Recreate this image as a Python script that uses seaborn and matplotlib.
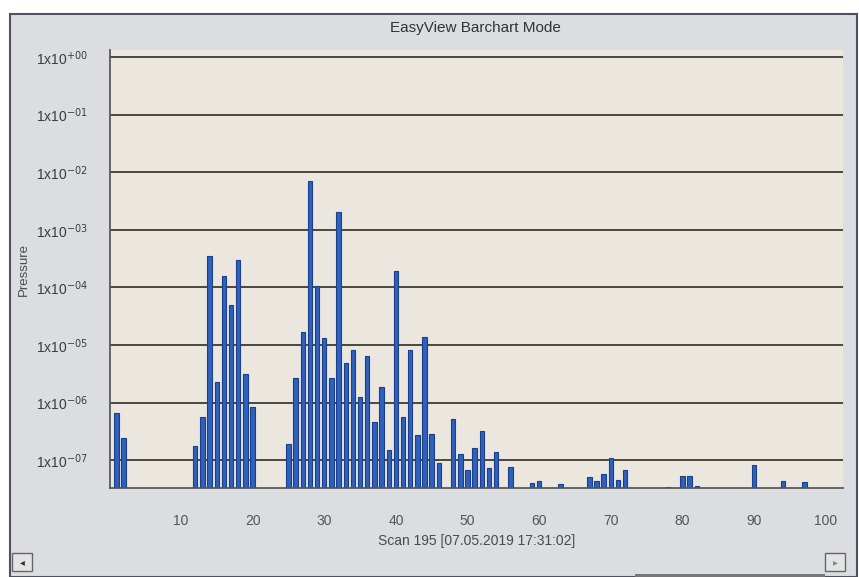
import matplotlib
matplotlib.use("Agg")
import matplotlib.pyplot as plt
import matplotlib.patches as mpatches
import seaborn as sns
import pandas as pd

# --- Dados (massa x pressão) ---
massas = [1, 2, 12, 13, 14, 15, 16, 17, 18, 19, 20,
          25, 26, 27, 28, 29, 30, 31, 32, 33, 34, 35, 36, 37, 38, 39,
          40, 41, 42, 43, 44, 45, 46, 48, 49, 50, 51, 52, 53, 54, 56,
          59, 60, 63, 67, 68, 69, 70, 71, 72, 78, 80, 81, 82, 90, 94, 97]
pressoes = [6.6e-7, 2.4e-7, 1.8e-7, 5.6e-7, 3.5e-4, 2.3e-6, 1.6e-4, 4.9e-5, 3.0e-4, 3.2e-6, 8.3e-7,
            1.9e-7, 2.7e-6, 1.7e-5, 7.0e-3, 1.05e-4, 1.3e-5, 2.7e-6, 2.0e-3, 4.8e-6, 8.1e-6, 1.25e-6, 6.4e-6, 4.6e-7, 1.9e-6, 1.5e-7,
            1.9e-4, 5.6e-7, 8.1e-6, 2.7e-7, 1.4e-5, 2.9e-7, 8.9e-8, 5.1e-7, 1.3e-7, 6.7e-8, 1.6e-7, 3.2e-7, 7.3e-8, 1.4e-7, 7.6e-8,
            4.0e-8, 4.4e-8, 3.8e-8, 5.1e-8, 4.3e-8, 5.7e-8, 1.1e-7, 4.6e-8, 6.7e-8, 3.5e-8, 5.3e-8, 5.3e-8, 3.6e-8, 8.3e-8, 4.4e-8, 4.2e-8]

ticks_x = [10, 20, 30, 40, 50, 60, 70, 80, 90, 100]
ticks_y = [1e0, 1e-1, 1e-2, 1e-3, 1e-4, 1e-5, 1e-6, 1e-7]
rotulos_y = ["1x10$^{+00}$", "1x10$^{-01}$", "1x10$^{-02}$", "1x10$^{-03}$",
             "1x10$^{-04}$", "1x10$^{-05}$", "1x10$^{-06}$", "1x10$^{-07}$"]

df = pd.DataFrame({"massa": massas, "pressao": pressoes})

sns.set_theme(style="white")
plt.rcParams["font.family"] = ["Liberation Sans", "DejaVu Sans"]

W, H = 859, 577
fig = plt.figure(figsize=(W / 100, H / 100), dpi=100)
fig.patch.set_facecolor("white")

# --- Moldura da janela ---
fig.add_artist(mpatches.Rectangle((10 / W, 0), 847 / W, 1 - 14 / H,
                                  transform=fig.transFigure, facecolor="#dcdde0",
                                  edgecolor="#4d5260", linewidth=1.5, zorder=0))

ax = fig.add_axes([110 / W, 1 - 488 / H, 733 / W, 438 / H])
ax.set_facecolor("#ebe7df")

sns.barplot(data=df, x="massa", y="pressao", native_scale=True, width=0.62,
            color="#2f60bd", edgecolor="#1c3f8c", linewidth=0.8,
            saturation=1, ax=ax)

ax.set_yscale("log")
ax.set_ylim(3.3e-8, 1.32)
ax.set_xlim(0.1, 102.4)

ax.set_yticks(ticks_y)
ax.set_yticklabels(rotulos_y)
ax.minorticks_off()
ax.set_xticks(ticks_x)
ax.set_xticklabels([str(t) for t in ticks_x])

ax.yaxis.grid(True, color="#4a4740", linewidth=1.4)
ax.xaxis.grid(False)
ax.set_axisbelow(True)

ax.tick_params(axis="y", length=14, color="#8a8f99", width=1, labelsize=10,
               labelcolor="#3c3c3c", pad=2)
ax.tick_params(axis="x", direction="inout", length=6, color="#555", width=1,
               labelsize=10, labelcolor="#555555", pad=16)

for lado in ["top", "right"]:
    ax.spines[lado].set_visible(False)
ax.spines["left"].set_color("#555555")
ax.spines["bottom"].set_color("#555555")

ax.set_xlabel("Scan 195 [07.05.2019 17:31:02]", fontsize=10, color="#4a4a4a", labelpad=4)
ax.set_ylabel("Pressure", fontsize=9.5, color="#4a4a4a")
ax.yaxis.set_label_coords(-80 / 733, 0.5)

fig.text(475 / W, 1 - 28 / H, "EasyView Barchart Mode", ha="center", va="center",
         fontsize=11, color="#333333")

# --- Botões da barra de rolagem ---
fig.add_artist(mpatches.Rectangle((12 / W, 6 / H), 20 / W, 18 / H, transform=fig.transFigure,
                                  facecolor="#e4e4e4", edgecolor="#666", linewidth=1))
fig.text(22 / W, 15 / H, "◂", ha="center", va="center", fontsize=7, color="#333")
fig.add_artist(mpatches.Rectangle((825 / W, 6 / H), 20 / W, 18 / H, transform=fig.transFigure,
                                  facecolor="#e4e4e4", edgecolor="#666", linewidth=1))
fig.text(835 / W, 15 / H, "▸", ha="center", va="center", fontsize=7, color="#888")
fig.add_artist(mpatches.Rectangle((635 / W, 0), 190 / W, 3 / H, transform=fig.transFigure,
                                  facecolor="#777", edgecolor="none"))

fig.savefig("out.png", dpi=100, facecolor=fig.get_facecolor())
